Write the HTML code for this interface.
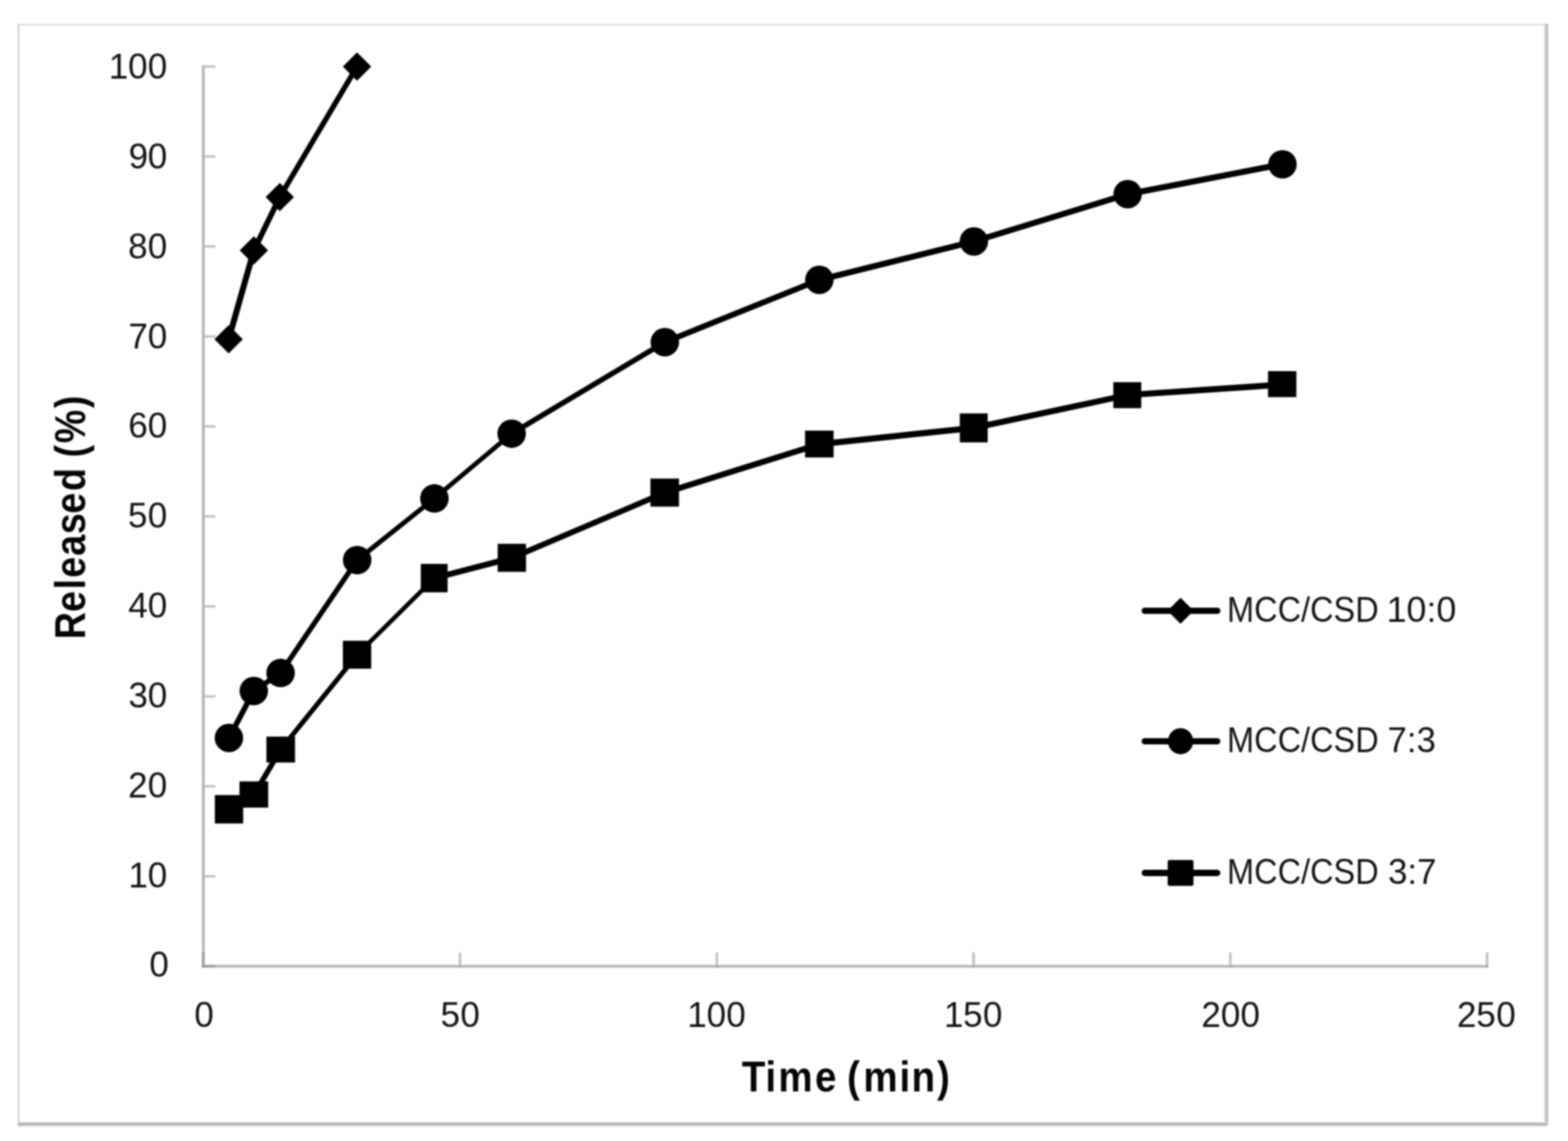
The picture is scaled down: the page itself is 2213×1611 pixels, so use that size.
<!DOCTYPE html>
<html lang="en">
<head>
<meta charset="utf-8">
<title>Released (%) vs Time (min)</title>
<style>
html,body{margin:0;padding:0;background:#fff;}
body{width:2213px;height:1611px;overflow:hidden;}
svg{display:block;position:absolute;left:0;top:0;filter:blur(0.8px);}
text{font-family:"Liberation Sans",sans-serif;fill:#141414;white-space:pre;}
#titles text{fill:#050505;}
.mk{fill:#000;stroke:none;}
.lg{fill:none;stroke:#000;stroke-width:8.8;stroke-linecap:round;}
</style>
</head>
<body>
<svg width="2213" height="1611" viewBox="0 0 2213 1611">
<rect x="0" y="0" width="2213" height="1611" fill="#fff"/>

<g id="frame">
<rect x="25.0" y="33.8" width="2159.6" height="1.9" fill="#d3d3d3"/>
<rect x="25.0" y="33.8" width="2.0" height="1555" fill="#cacaca"/>
<rect x="27.4" y="36" width="1.2" height="1548" fill="#f3f3f3"/>
<rect x="2179.4" y="33.8" width="2.4" height="1554.5" fill="#d6d6d6"/>
<rect x="2181.8" y="33.8" width="3.2" height="1554.5" fill="#b9b9b9"/>
<rect x="25.0" y="1584.2" width="2160" height="1.8" fill="#d4d4d4"/>
<rect x="25.0" y="1586.0" width="2160" height="2.3" fill="#a9a9a9"/>
<rect x="25.0" y="1588.3" width="2158" height="1.8" fill="#cbcbcb"/>
<rect x="25.0" y="1590.1" width="2156" height="1.6" fill="#f1f1f1"/>
</g>
<g id="axes">
<rect x="286.9" y="1235.47" width="17.3" height="3.6" fill="#c3c3c3"/>
<rect x="286.9" y="1108.44" width="17.3" height="3.6" fill="#c3c3c3"/>
<rect x="286.9" y="981.41" width="17.3" height="3.6" fill="#c3c3c3"/>
<rect x="286.9" y="854.38" width="17.3" height="3.6" fill="#c3c3c3"/>
<rect x="286.9" y="727.35" width="17.3" height="3.6" fill="#c3c3c3"/>
<rect x="286.9" y="600.32" width="17.3" height="3.6" fill="#c3c3c3"/>
<rect x="286.9" y="473.29" width="17.3" height="3.6" fill="#c3c3c3"/>
<rect x="286.9" y="346.26" width="17.3" height="3.6" fill="#c3c3c3"/>
<rect x="286.9" y="219.23" width="17.3" height="3.6" fill="#c3c3c3"/>
<rect x="286.9" y="92.20" width="17.3" height="3.6" fill="#c3c3c3"/>
<rect x="647.48" y="1344.50" width="3.6" height="19.8" fill="#c3c3c3"/>
<rect x="1009.85" y="1344.50" width="3.6" height="19.8" fill="#c3c3c3"/>
<rect x="1372.23" y="1344.50" width="3.6" height="19.8" fill="#c3c3c3"/>
<rect x="1734.60" y="1344.50" width="3.6" height="19.8" fill="#c3c3c3"/>
<rect x="2096.97" y="1344.50" width="3.6" height="19.8" fill="#c3c3c3"/>
<rect x="284.90" y="92.20" width="4.0" height="1274.00" fill="#b6b6b6"/>
<rect x="284.90" y="1362.40" width="1815.67" height="3.8" fill="#b6b6b6"/>
<rect x="284.90" y="1344.50" width="4.0" height="21.7" fill="#a0a0a0"/>
<rect x="284.90" y="1362.40" width="19.3" height="3.8" fill="#a0a0a0"/>
<rect x="647.48" y="1362.40" width="3.6" height="3.8" fill="#ababab"/>
<rect x="1009.85" y="1362.40" width="3.6" height="3.8" fill="#ababab"/>
<rect x="1372.23" y="1362.40" width="3.6" height="3.8" fill="#ababab"/>
<rect x="1734.60" y="1362.40" width="3.6" height="3.8" fill="#ababab"/>
<rect x="2096.97" y="1362.40" width="3.6" height="3.8" fill="#ababab"/>
</g>
<g id="ticklabels">
<text transform="scale(0.99,1)" x="212.90" y="1379.50" font-size="50.0" font-weight="normal">0</text>
<text transform="scale(0.99,1)" x="183.08 210.67" y="1252.66" font-size="50.0" font-weight="normal">10</text>
<text transform="scale(0.99,1)" x="182.69 210.67" y="1125.82" font-size="50.0" font-weight="normal">20</text>
<text transform="scale(0.99,1)" x="182.99 210.67" y="998.98" font-size="50.0" font-weight="normal">30</text>
<text transform="scale(0.99,1)" x="182.79 210.67" y="872.14" font-size="50.0" font-weight="normal">40</text>
<text transform="scale(0.99,1)" x="182.29 210.67" y="745.30" font-size="50.0" font-weight="normal">50</text>
<text transform="scale(0.99,1)" x="182.73 210.67" y="618.46" font-size="50.0" font-weight="normal">60</text>
<text transform="scale(0.99,1)" x="183.03 210.67" y="491.62" font-size="50.0" font-weight="normal">70</text>
<text transform="scale(0.99,1)" x="182.62 210.67" y="364.78" font-size="50.0" font-weight="normal">80</text>
<text transform="scale(0.99,1)" x="183.45 210.67" y="237.94" font-size="50.0" font-weight="normal">90</text>
<text transform="scale(0.99,1)" x="155.03 182.62 210.67" y="111.10" font-size="50.0" font-weight="normal">100</text>
<text transform="scale(0.99,1)" x="276.90" y="1450.00" font-size="50.0" font-weight="normal">0</text>
<text transform="scale(0.99,1)" x="628.04 656.43" y="1450.00" font-size="50.0" font-weight="normal">50</text>
<text transform="scale(0.99,1)" x="979.71 1007.30 1035.35" y="1450.00" font-size="50.0" font-weight="normal">100</text>
<text transform="scale(0.99,1)" x="1345.74 1373.01 1401.39" y="1450.00" font-size="50.0" font-weight="normal">150</text>
<text transform="scale(0.99,1)" x="1712.53 1740.52 1768.57" y="1450.00" font-size="50.0" font-weight="normal">200</text>
<text transform="scale(0.99,1)" x="2076.95 2104.61 2132.99" y="1450.00" font-size="50.0" font-weight="normal">250</text>
</g>
<g id="titles">
<text transform="scale(0.9,1)" x="1163.23 1200.21 1220.46 1278.08 1311.68 1328.30 1353.77 1410.69 1429.41 1469.58" y="1541.10" font-size="60.4" font-weight="bold">Time (min)</text>
<text transform="translate(119.8,0) rotate(-90) scale(0.88,1)" x="-1025.68 -981.96 -945.85 -926.90 -891.79 -857.16 -824.29 -787.93 -751.03 -734.01 -711.13 -654.74" y="0.00" font-size="60.4" font-weight="bold">Released (%)</text>
</g>
<g id="series">
<polygon class="mk" points="323.1,1138.9 358.2,1118.2 358.2,1126.9 323.1,1147.6"/>
<polygon class="mk" points="353.8,1122.6 391.6,1058.5 400.4,1058.5 362.6,1122.6"/>
<polygon class="mk" points="391.6,1058.5 499.8,924.4 508.5,924.4 400.4,1058.5"/>
<polygon class="mk" points="504.1,920.0 613.1,811.9 613.1,820.6 504.1,928.7"/>
<polygon class="mk" points="613.1,811.9 722.1,783.5 722.1,792.2 613.1,820.6"/>
<polygon class="mk" points="722.1,783.5 938.3,691.3 938.3,700.0 722.1,792.2"/>
<polygon class="mk" points="938.3,691.3 1156.4,622.7 1156.4,631.4 938.3,700.0"/>
<polygon class="mk" points="1156.4,622.7 1374.5,599.8 1374.5,608.5 1156.4,631.4"/>
<polygon class="mk" points="1374.5,599.8 1591.5,553.4 1591.5,562.1 1374.5,608.5"/>
<polygon class="mk" points="1591.5,553.4 1810.0,538.6 1810.0,547.3 1591.5,562.1"/>
<polygon class="mk" points="318.8,1041.9 353.8,975.6 362.6,975.6 327.5,1041.9"/>
<polygon class="mk" points="358.2,971.2 396.0,945.8 396.0,954.5 358.2,979.9"/>
<polygon class="mk" points="391.6,950.2 499.8,790.8 508.5,790.8 400.4,950.2"/>
<polygon class="mk" points="504.1,786.4 613.1,699.4 613.1,708.1 504.1,795.1"/>
<polygon class="mk" points="613.1,699.4 722.1,607.9 722.1,616.6 613.1,708.1"/>
<polygon class="mk" points="722.1,607.9 938.3,478.7 938.3,487.4 722.1,616.6"/>
<polygon class="mk" points="938.3,478.7 1156.4,390.7 1156.4,399.4 938.3,487.4"/>
<polygon class="mk" points="1156.4,390.7 1374.5,336.6 1374.5,345.3 1156.4,399.4"/>
<polygon class="mk" points="1374.5,336.6 1591.5,269.8 1591.5,278.5 1374.5,345.3"/>
<polygon class="mk" points="1591.5,269.8 1810.0,227.6 1810.0,236.3 1591.5,278.5"/>
<polygon class="mk" points="318.3,478.9 353.9,353.6 362.7,353.6 327.1,478.9"/>
<polygon class="mk" points="353.9,353.6 390.5,278.2 399.2,278.2 362.7,353.6"/>
<polygon class="mk" points="390.5,278.2 499.5,94.0 508.2,94.0 399.2,278.2"/>
<rect class="mk" x="303.2" y="1122.6" width="40.0" height="40.1"/>
<rect class="mk" x="338.0" y="1103.3" width="40.5" height="37.0"/>
<rect class="mk" x="376.0" y="1040.0" width="40.4" height="36.6"/>
<rect class="mk" x="483.9" y="904.7" width="40.0" height="39.4"/>
<rect class="mk" x="593.9" y="796.2" width="37.8" height="40.1"/>
<rect class="mk" x="702.4" y="767.8" width="40.0" height="39.6"/>
<rect class="mk" x="918.0" y="675.7" width="40.3" height="39.6"/>
<rect class="mk" x="1136.2" y="608.0" width="40.3" height="37.9"/>
<rect class="mk" x="1354.6" y="583.7" width="39.4" height="40.9"/>
<rect class="mk" x="1571.3" y="539.6" width="39.4" height="36.7"/>
<rect class="mk" x="1789.6" y="524.0" width="40.0" height="36.7"/>
<circle class="mk" cx="323.1" cy="1041.9" r="20.1"/>
<circle class="mk" cx="358.2" cy="975.6" r="20.1"/>
<circle class="mk" cx="396.0" cy="950.2" r="20.1"/>
<circle class="mk" cx="504.1" cy="790.8" r="20.1"/>
<circle class="mk" cx="613.1" cy="703.7" r="20.1"/>
<circle class="mk" cx="722.1" cy="612.3" r="20.1"/>
<circle class="mk" cx="938.3" cy="483.1" r="20.1"/>
<circle class="mk" cx="1156.4" cy="395.1" r="20.1"/>
<circle class="mk" cx="1374.5" cy="340.9" r="20.1"/>
<circle class="mk" cx="1591.5" cy="274.1" r="20.1"/>
<circle class="mk" cx="1810.0" cy="232.0" r="20.1"/>
<polygon class="mk" points="322.7,458.9 342.7,478.9 322.7,498.9 302.7,478.9"/>
<polygon class="mk" points="358.3,333.6 378.3,353.6 358.3,373.6 338.3,353.6"/>
<polygon class="mk" points="394.9,258.2 414.9,278.2 394.9,298.2 374.9,278.2"/>
<polygon class="mk" points="503.9,74.0 523.9,94.0 503.9,114.0 483.9,94.0"/>
</g>
<g id="legend">
<line class="lg" x1="1615.6" y1="862.3" x2="1718.0" y2="862.3"/>
<polygon class="mk" points="1666.2,843.9 1684.6000000000001,862.3 1666.2,880.6999999999999 1647.8,862.3"/>
<text y="877.50" font-size="50.0"><tspan x="1731.84" textLength="213.96" lengthAdjust="spacingAndGlyphs">MCC/CSD</tspan><tspan x="1942.90" textLength="112.48" lengthAdjust="spacingAndGlyphs"> 10:0</tspan></text>
<line class="lg" x1="1615.6" y1="1046.6" x2="1718.0" y2="1046.6"/>
<ellipse class="mk" cx="1666.2" cy="1046.6" rx="17.8" ry="18.4"/>
<text y="1061.80" font-size="50.0"><tspan x="1731.84" textLength="213.96" lengthAdjust="spacingAndGlyphs">MCC/CSD</tspan><tspan x="1944.64" textLength="81.92" lengthAdjust="spacingAndGlyphs"> 7:3</tspan></text>
<line class="lg" x1="1615.6" y1="1232.5" x2="1718.0" y2="1232.5"/>
<rect class="mk" x="1648.0" y="1214.3" width="36.4" height="36.4" rx="2.5"/>
<text y="1247.70" font-size="50.0"><tspan x="1731.84" textLength="213.96" lengthAdjust="spacingAndGlyphs">MCC/CSD</tspan><tspan x="1945.22" textLength="82.26" lengthAdjust="spacingAndGlyphs"> 3:7</tspan></text>
</g>
</svg>
</body>
</html>
